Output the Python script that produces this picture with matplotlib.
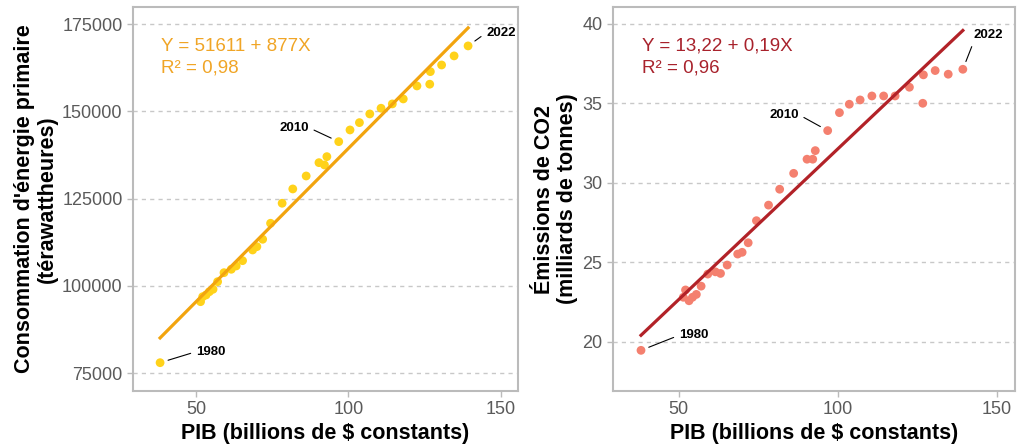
import matplotlib
matplotlib.use("Agg")
import matplotlib.pyplot as plt
import numpy as np

plt.rcParams['font.family'] = ['Liberation Sans', 'DejaVu Sans']

# years : 1980 puis 1990-2022
annees = [1980] + list(range(1990, 2023))

# PIB (billions de $ constants)
pib = [38.1, 51.4, 52.1, 53.2, 54.3, 55.5, 57.0, 59.1, 61.5, 63.1, 65.2,
       68.5, 69.9, 71.8, 74.4, 78.2, 81.7, 86.1, 90.3, 92.9, 92.1,
       96.8, 100.5, 103.6, 107.0, 110.7, 114.4, 118.0, 122.5, 126.9, 130.6,
       126.7, 134.7, 139.3]

# consommation d'energie primaire (TWh)
energie = [78036, 95504, 96936, 97422, 98368, 99055, 101231, 103808, 104781,
           105727, 107245, 110309, 111254, 113373, 117955, 123683, 127778,
           131490, 135307, 137027, 134650, 141322, 144670, 146770, 149256,
           150888, 152120, 153550, 157270, 161370, 163270, 157770, 165870,
           168730]

# emissions de CO2 (milliards de tonnes)
co2 = [19.46, 22.80, 23.26, 22.58, 22.80, 22.98, 23.50, 24.26, 24.40, 24.30,
       24.83, 25.52, 25.63, 26.23, 27.62, 28.60, 29.60, 30.60, 31.49, 32.03,
       31.49, 33.29, 34.42, 34.95, 35.22, 35.47, 35.47, 35.47, 36.02, 36.80,
       37.07, 35.01, 36.84, 37.15]

eq_energie = "Y = 51611 + 877X\nR² = 0,98"
eq_co2 = "Y = 13,22 + 0,19X\nR² = 0,96"

# decalages des etiquettes (pixels) : annee -> (dx, dy, ha, relpos)
etiq_gauche = {1980: (36, 11, 'left', (0, 0.5)),
               2010: (-30, 14, 'right', (1, 0.5)),
               2022: (18, 13, 'left', (0, 0.5))}
etiq_droite = {1980: (38, 15, 'left', (0, 0.5)),
               2010: (-29, 16, 'right', (1, 0.5)),
               2022: (11, 34, 'left', (0, 0))}

fig = plt.figure(figsize=(10.24, 4.46), dpi=100)
ax1 = fig.add_axes([133 / 1024, 1 - 391 / 446, 385 / 1024, 384 / 446])
ax2 = fig.add_axes([612.7 / 1024, 1 - 391 / 446, 402.3 / 1024, 384 / 446])


def panneau(ax, x, y, c_pts, c_ligne, c_txt, eq, ylab, etiq, ylim, yticks):
    x = np.array(x)
    y = np.array(y)
    ax.scatter(x, y, s=40, color=c_pts, edgecolors='none', zorder=3)
    a, b = np.polyfit(x, y, 1)
    xs = np.array([x.min(), x.max()])
    ax.plot(xs, b + a * xs, color=c_ligne, lw=2.3, zorder=4)
    ax.text(0.072, 0.87, eq, transform=ax.transAxes, color=c_txt,
            fontsize=13.5, va='center', ha='left', linespacing=1.35)
    for an, (dx, dy, ha, rp) in etiq.items():
        i = annees.index(an)
        ax.annotate(str(an), xy=(x[i], y[i]), xytext=(dx, dy),
                    textcoords='offset pixels', ha=ha, va='center',
                    fontsize=9.5, fontweight='bold', color='black',
                    arrowprops=dict(arrowstyle='-', color='black', lw=0.8,
                                    shrinkA=2, shrinkB=6, relpos=rp),
                    zorder=5)
    ax.set_xlim(29.2, 155.7)
    ax.set_ylim(*ylim)
    ax.set_xticks([50, 100, 150])
    ax.set_yticks(yticks)
    ax.yaxis.grid(True, linestyle=(0, (3, 3)), color='#c8c8c8', lw=1)
    ax.set_axisbelow(True)
    for sp in ax.spines.values():
        sp.set_color('#bbbbbb')
        sp.set_linewidth(1.5)
    ax.tick_params(labelsize=13, labelcolor='#5a5a5a', color='#bbbbbb',
                   length=4, width=1)
    ax.set_xlabel("PIB (billions de $ constants)", fontsize=15.5,
                  fontweight='bold', labelpad=3)
    ax.set_ylabel(ylab, fontsize=15.5, fontweight='bold', labelpad=3,
                  linespacing=1.1)


panneau(ax1, pib, energie, '#FFD21A', '#F2A40E', '#F0A526', eq_energie,
        "Consommation d'énergie primaire\n(térawattheures)", etiq_gauche,
        (69930, 179870), [75000, 100000, 125000, 150000, 175000])
panneau(ax2, pib, co2, '#F4806F', '#B22228', '#A8222C', eq_co2,
        "Émissions de CO2\n(milliards de tonnes)", etiq_droite,
        (16.9, 41.07), [20, 25, 30, 35, 40])

fig.savefig("out.png", dpi=100)
